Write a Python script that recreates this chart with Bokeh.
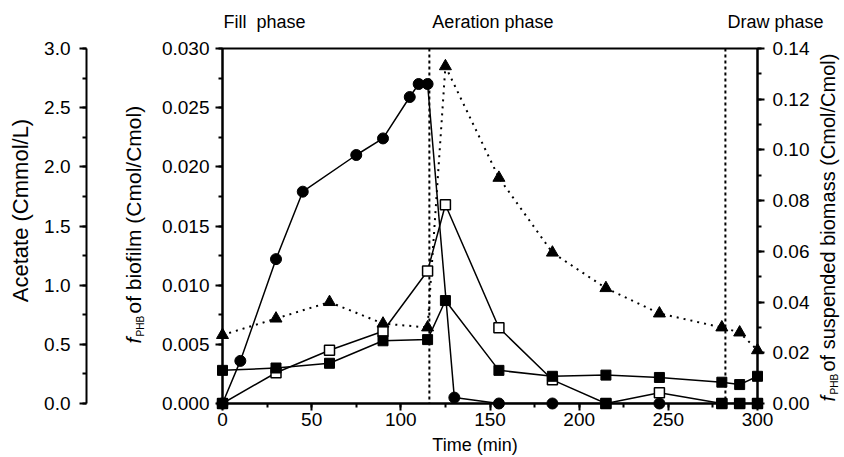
import math
from bokeh.plotting import figure
from bokeh.models import Range1d, LinearAxis, SingleIntervalTicker, PrintfTickFormatter, Span
from bokeh.core.properties import value
from bokeh.layouts import row
from bokeh.embed import file_html
from bokeh.resources import INLINE

# ---------------- data ----------------
time_acetate = [0, 10, 30, 45, 75, 90, 105, 110, 115, 130, 155, 185, 245]
acetate = [0.0, 0.36, 1.22, 1.79, 2.10, 2.24, 2.59, 2.70, 2.70, 0.05, 0.0, 0.0, 0.0]

time_sq = [0, 30, 60, 90, 115, 125, 155, 185, 215, 245, 280, 290, 300]
biofilm_filled = [0.0028, 0.0030, 0.0034, 0.0053, 0.0054, 0.0087, 0.0028, 0.0023,
                  0.0024, 0.0022, 0.0018, 0.0016, 0.0023]
biofilm_open = [0.0, 0.0026, 0.0045, 0.0061, 0.0112, 0.0168, 0.0064, 0.0020,
                0.0, 0.0009, 0.0, 0.0, 0.0]

time_tri = [0, 30, 60, 90, 115, 125, 155, 185, 215, 245, 280, 290, 300]
suspended = [0.027, 0.0335, 0.040, 0.0315, 0.030, 0.133, 0.089, 0.0595,
             0.0455, 0.0355, 0.030, 0.028, 0.021]

phase_bounds = [116, 282]
phase_names = ["Fill \u00a0phase", "Aeration phase", "Draw phase"]
phase_starts = [0, 116, 282]

x_ticks_interval = 50
FONT = "Liberation Sans"

# ---------------- helpers ----------------
def style_axis(ax, interval, fmt, standoff):
    ax.ticker = SingleIntervalTicker(interval=interval, num_minor_ticks=2)
    ax.formatter = PrintfTickFormatter(format=fmt)
    ax.axis_line_width = 2
    ax.axis_line_color = "black"
    ax.major_tick_line_width = 2
    ax.minor_tick_line_width = 2
    ax.major_tick_line_color = "black"
    ax.minor_tick_line_color = "black"
    ax.major_tick_in = 0
    ax.major_tick_out = 7
    ax.minor_tick_in = 0
    ax.minor_tick_out = 4
    ax.major_label_text_font = FONT
    ax.major_label_text_font_size = "19px"
    ax.major_label_text_color = "black"
    ax.major_label_standoff = standoff

# frame geometry in page pixels (used only to place text labels)
FL, FR, FT, FB = 222, 757, 48, 403
H = 457

def px_t(px):
    return (px - FL) / (FR - FL) * 300.0

def px_b(py):
    return (FB - py) / (FB - FT) * 0.03

def put_text(p, x, y, text, size, align="left", angle=0.0, style="normal"):
    p.text(x=[x], y=[y], text=[text], angle=angle, text_align=align,
           text_baseline="alphabetic", text_font=value(FONT), text_font_size="%dpx" % size,
           text_font_style=style, text_color="black", level="overlay")

def h_text(p, bx, by, text, size, align="left"):
    # bx, by: wanted page position of the text baseline
    shift = 0.33 * size
    put_text(p, px_t(bx), px_b(by - shift), text, size, align=align)

def v_text(bx, by, text, size, style="normal"):
    # rotated text reading upward; bx = wanted baseline x, by = start (bottom) y
    shift = 0.33 * size
    put_text(pB, px_t(bx - shift), px_b(by), text, size, angle=math.pi / 2, style=style)

# ---------------- figure A: acetate axis ----------------
pA = figure(width=108, height=H, x_range=Range1d(0, 22), y_range=Range1d(0, 3),
            output_backend="svg", toolbar_location=None, x_axis_location=None,
            min_border_left=86, min_border_right=0, min_border_top=FT,
            min_border_bottom=H - FB)
pA.outline_line_color = None
pA.xgrid.visible = False
pA.ygrid.visible = False
style_axis(pA.yaxis[0], 0.5, "%.1f", 9)
put_text(pA, (27 - 0.33 * 22) - 86, (FB - 210) / (FB - FT) * 3.0, "Acetate (Cmmol/L)", 22,
         align="center", angle=math.pi / 2)

# ---------------- figure B: main plot ----------------
pB = figure(width=844 - 108, height=H, x_range=Range1d(0, 300), y_range=Range1d(0, 0.03),
            output_backend="svg", toolbar_location=None,
            min_border_left=FL - 108, min_border_right=844 - FR,
            min_border_top=FT, min_border_bottom=H - FB)
pB.extra_y_ranges = {"acet": Range1d(0, 3), "susp": Range1d(0, 0.14)}
pB.xgrid.visible = False
pB.ygrid.visible = False
pB.outline_line_color = "black"
pB.outline_line_width = 2

style_axis(pB.xaxis[0], x_ticks_interval, "%d", 2)
style_axis(pB.yaxis[0], 0.005, "%.3f", 6)
right_ax = LinearAxis(y_range_name="susp")
style_axis(right_ax, 0.02, "%.2f", 8)
pB.add_layout(right_ax, "right")

# phase boundaries
for b in phase_bounds:
    pB.add_layout(Span(location=b, dimension="height", line_color="black",
                       line_width=2, line_dash="3 3"))

# series lines
pB.line(time_acetate, acetate, y_range_name="acet", line_color="black", line_width=1.5)
pB.line(time_sq, biofilm_open, line_color="black", line_width=1.5)
pB.line(time_sq, biofilm_filled, line_color="black", line_width=1.5)
pB.line(time_tri, suspended, y_range_name="susp", line_color="black", line_width=2,
        line_dash="2 5")

# markers (overlay level so they are not clipped at the frame edges)
pB.scatter(time_acetate, acetate, y_range_name="acet", marker="circle", size=11,
           fill_color="black", line_color="black", level="overlay")
pB.scatter(time_sq, biofilm_open, marker="square", size=10, fill_color="white",
           line_color="black", line_width=1.5, level="overlay")
zero_t = [t for t, v in zip(time_sq, biofilm_open) if v == 0]
zero_v = [v for v in biofilm_open if v == 0]
pB.scatter(zero_t, zero_v, marker="square", size=10, fill_color="black",
           line_color="black", level="overlay")
pB.scatter(time_sq, biofilm_filled, marker="square", size=10, fill_color="black",
           line_color="black", level="overlay")
pB.scatter(time_tri, suspended, y_range_name="susp", marker="triangle", size=12,
           fill_color="black", line_color="black", level="overlay")

# phase names
scale = (FR - FL) / 300.0
offsets_px = [1, 3, 2]
for name, s, off in zip(phase_names, phase_starts, offsets_px):
    h_text(pB, FL + s * scale + off, 27, name, 18)

# x axis title
h_text(pB, 474.5, 450, "Time (min)", 18, align="center")

# left (biofilm) title
v_text(140, 343, "f", 21, style="italic")
v_text(143, 336, "PHB", 10)
v_text(140, 313, "of biofilm (Cmol/Cmol)", 21)
# right (suspended) title
v_text(834, 401, "f", 20, style="italic")
v_text(837, 394, "PHB", 10)
v_text(834, 371, "of suspended biomass (Cmol/Cmol)", 20)

layout = row(pA, pB)
open("out.html", "w").write(file_html(layout, INLINE))
